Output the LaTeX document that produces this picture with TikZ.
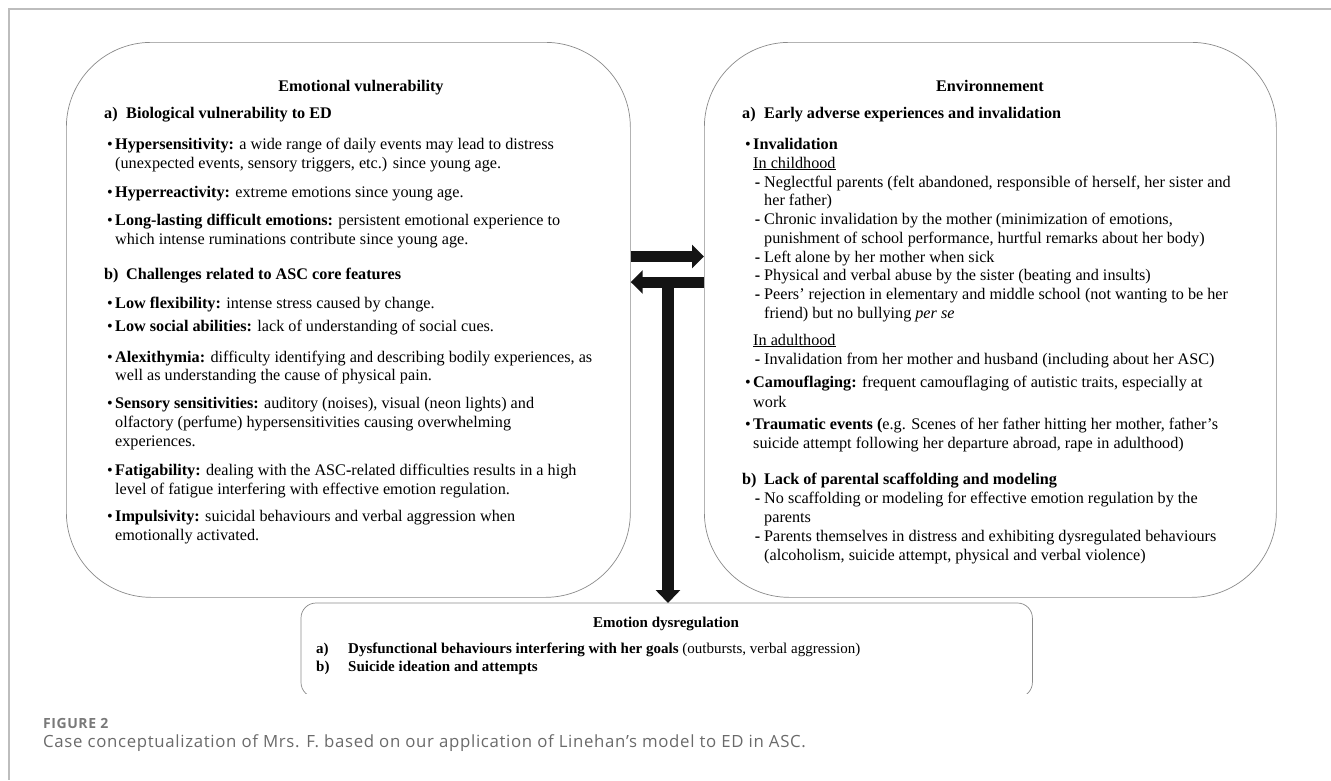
\documentclass[tikz,border=0pt]{standalone}
\usepackage{fontspec}
\setmainfont{Liberation Serif}
\newfontfamily\capfont[LetterSpace=4]{Open Sans}
\usetikzlibrary{arrows.meta}
\definecolor{framegray}{HTML}{BDBDBD}
\definecolor{boxgray}{HTML}{8A8A8A}
\definecolor{arrowblack}{HTML}{141414}
\definecolor{capgray}{HTML}{6A6A6A}
\newcommand{\fs}{\fontsize{16.2}{19}\selectfont}
\newcommand{\fb}{\fontsize{15}{18}\selectfont}
\newcommand{\bul}{\llap{\textbullet\hspace{2.5pt}}}
\newcommand{\dsh}{\llap{\textbf{-}\hspace{4pt}}}
\newcommand{\tl}[4]{\node[txt] (#1) at (#2,#3) {#4};}
\tikzset{
  bigbox/.style={draw=boxgray, line width=0.7pt, rounded corners=85pt, anchor=north west, inner sep=0pt},
  txt/.style={anchor=base west, inner sep=0pt, font=\fs},
  txtb/.style={anchor=base west, inner sep=0pt, font=\fb},
  hd/.style={anchor=base, inner sep=0pt, font=\fs\bfseries},
  fat/.style={draw=arrowblack, line width=11pt, -{Triangle[length=12pt,width=23pt]}},
}
\begin{document}
\begin{tikzpicture}[x=1pt,y=-1pt]
\useasboundingbox (0,0) rectangle (1331,780);
% outer frame
\draw[framegray, line width=2pt] (1331,9) -- (9,9) -- (9,780);
% boxes
\node[bigbox, minimum width=564pt, minimum height=555pt] (L) at (66,42) {};
\node[bigbox, minimum width=572pt, minimum height=555pt] (R) at (704,42) {};
\node[anchor=north west, inner sep=0pt, minimum width=731pt, minimum height=90pt] (B) at (301,603) {};
\begin{scope}
  \clip ([xshift=-5pt,yshift=5pt]B.north west) rectangle (B.south east -| 1045,0);
  \draw[boxgray, line width=0.7pt, rounded corners=15pt] (B.north west) rectangle ([yshift=-4pt]B.south east);
\end{scope}
% arrows
\coordinate (t) at (668,282);
\draw[fat] (L.east |- 0,256.5) -- (R.west |- 0,256.5);
\draw[fat] (R.west |- 0,282) -- (L.east |- 0,282);
\draw[draw=arrowblack, line width=12pt, -{Triangle[length=13pt,width=24pt]}] (t) -- (t |- B.north);
% left box text
\node[hd] (hL) at (361,91) {Emotional vulnerability};
\tl{la}{104}{118}{\textbf{\makebox[22pt][l]{a)}Biological vulnerability to ED}}
\tl{l1}{115}{149}{\bul\textbf{Hypersensitivity:} a wide range of daily events may lead to distress}
\tl{l2}{115}{168}{(unexpected events, sensory triggers, etc.) since young age.}
\tl{l3}{115}{197}{\bul\textbf{Hyperreactivity:} extreme emotions since young age.}
\tl{l4}{115}{225}{\bul\textbf{Long-lasting difficult emotions:} persistent emotional experience to}
\tl{l5}{115}{244}{which intense ruminations contribute since young age.}
\tl{lb}{104}{279}{\textbf{\makebox[22pt][l]{b)}Challenges related to ASC core features}}
\tl{l6}{115}{308}{\bul\textbf{Low flexibility:} intense stress caused by change.}
\tl{l7}{115}{331}{\bul\textbf{Low social abilities:} lack of understanding of social cues.}
\tl{l8}{115}{362}{\bul\textbf{Alexithymia:} difficulty identifying and describing bodily experiences, as}
\tl{l9}{115}{380}{well as understanding the cause of physical pain.}
\tl{l10}{115}{408}{\bul\textbf{Sensory sensitivities:} auditory (noises), visual (neon lights) and}
\tl{l11}{115}{427}{olfactory (perfume) hypersensitivities causing overwhelming}
\tl{l12}{115}{446}{experiences.}
\tl{l13}{115}{475}{\bul\textbf{Fatigability:} dealing with the ASC\textbf{-}related difficulties results in a high}
\tl{l14}{115}{494}{level of fatigue interfering with effective emotion regulation.}
\tl{l15}{115}{521}{\bul\textbf{Impulsivity:} suicidal behaviours and verbal aggression when}
\tl{l16}{115}{540}{emotionally activated.}
% right box text
\node[hd] (hR) at (990,91) {Environnement};
\tl{ra}{742}{118}{\textbf{\makebox[22pt][l]{a)}Early adverse experiences and invalidation}}
\tl{r1}{753}{149}{\bul\textbf{Invalidation}}
\tl{r2}{753}{168}{\underline{In childhood}}
\tl{r3}{764}{187}{\dsh Neglectful parents (felt abandoned, responsible of herself, her sister and}
\tl{r4}{764}{205}{her father)}
\tl{r5}{764}{224}{\dsh Chronic invalidation by the mother (minimization of emotions,}
\tl{r6}{764}{243}{punishment of school performance, hurtful remarks about her body)}
\tl{r7}{764}{262}{\dsh Left alone by her mother when sick}
\tl{r8}{764}{280}{\dsh Physical and verbal abuse by the sister (beating and insults)}
\tl{r9}{764}{299}{\dsh Peers’ rejection in elementary and middle school (not wanting to be her}
\tl{r10}{764}{318}{friend) but no bullying \textit{per se}}
\tl{r11}{753}{345}{\underline{In adulthood}}
\tl{r12}{764}{364}{\dsh Invalidation from her mother and husband (including about her ASC)}
\tl{r13}{753}{387}{\bul\textbf{Camouflaging:} frequent camouflaging of autistic traits, especially at}
\tl{r14}{753}{407}{work}
\tl{r15}{753}{429}{\bul\textbf{Traumatic events (}e.g. Scenes of her father hitting her mother, father’s}
\tl{r16}{753}{448}{suicide attempt following her departure abroad, rape in adulthood)}
\tl{rb}{742}{484}{\textbf{\makebox[22pt][l]{b)}Lack of parental scaffolding and modeling}}
\tl{r17}{764}{503}{\dsh No scaffolding or modeling for effective emotion regulation by the}
\tl{r18}{764}{522}{parents}
\tl{r19}{764}{541}{\dsh Parents themselves in distress and exhibiting dysregulated behaviours}
\tl{r20}{764}{560}{(alcoholism, suicide attempt, physical and verbal violence)}
% bottom box text
\node[anchor=base, inner sep=0pt, font=\fb\bfseries] (hB) at (666,627) {Emotion dysregulation};
\node[txtb] (ba) at (316,653) {\textbf{\makebox[32pt][l]{a)}Dysfunctional behaviours interfering with her goals} (outbursts, verbal aggression)};
\node[txtb] (bb) at (316,671) {\textbf{\makebox[32pt][l]{b)}Suicide ideation and attempts}};
% caption
\node[anchor=base west, inner sep=0pt, font=\capfont\fontsize{14}{16}\selectfont\bfseries, text=capgray!90] (fig) at (43,728) {FIGURE 2};
\node[anchor=base west, inner sep=0pt, font=\capfont\fontsize{16.8}{19}\selectfont, text=capgray] (cap) at (43,747) {Case conceptualization of Mrs. F. based on our application of Linehan’s model to ED in ASC.};
\end{tikzpicture}
\end{document}
